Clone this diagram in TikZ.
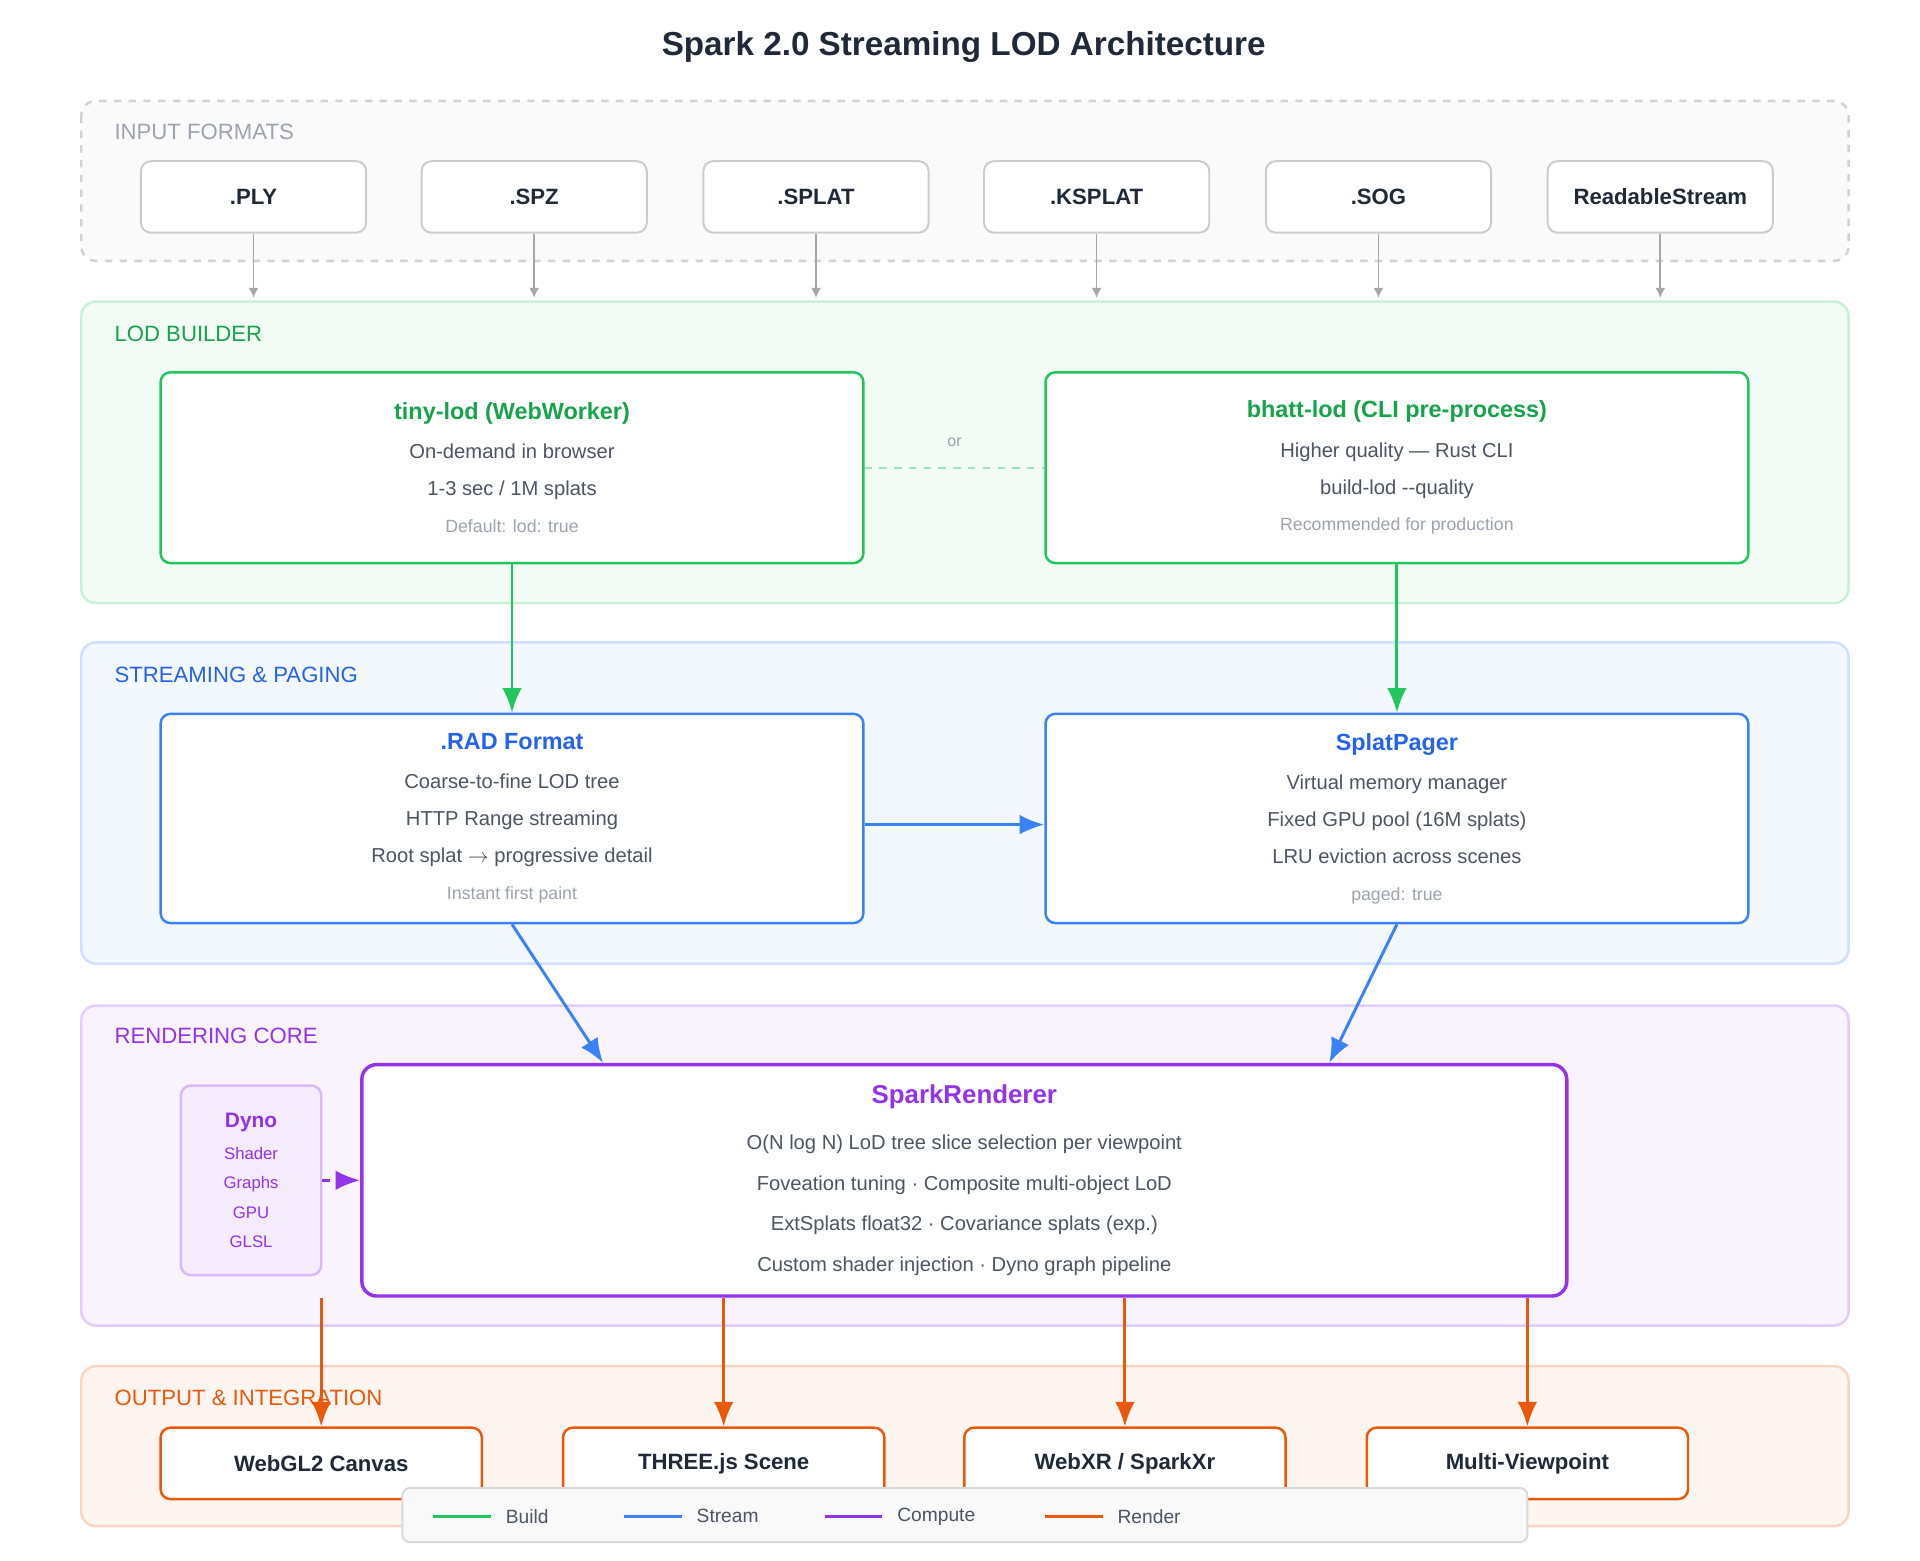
\documentclass[tikz,border=0pt]{standalone}
\usepackage{fontspec}
\setmainfont{Liberation Sans}
\usetikzlibrary{arrows.meta, positioning, calc}
\definecolor{sparkgreen}{HTML}{22C55E}
\definecolor{sparkgreentxt}{HTML}{16A34A}
\definecolor{sparkblue}{HTML}{3B82F6}
\definecolor{sparkbluetxt}{HTML}{2563EB}
\definecolor{sparkpurple}{HTML}{9333EA}
\definecolor{sparkorange}{HTML}{EA580C}
\definecolor{sparktext}{HTML}{4B5563}
\definecolor{sparkmuted}{HTML}{9CA3AF}
\definecolor{sparkdark}{HTML}{1F2937}

\begin{document}
\begin{tikzpicture}[
  x=0.5pt, y=-0.5pt,
  panel/.style={draw=#1!25, fill=#1!6, line width=1pt, rounded corners=6pt},
  paneltitle/.style={anchor=west, text=#1, font=\fontsize{9}{11}\selectfont},
  fmt/.style={draw=gray!40, fill=white, line width=0.8pt, rounded corners=4pt,
    minimum width=91.5pt, minimum height=29pt, font=\fontsize{9}{11}\selectfont\bfseries, text=sparkdark},
  comp/.style={draw=#1, fill=white, line width=1pt, rounded corners=4pt,
    minimum width=285.5pt, align=center, text=sparktext, font=\fontsize{8.2}{15}\selectfont},
  outbox/.style={draw=sparkorange, fill=white, line width=1pt, rounded corners=4pt,
    minimum width=130.5pt, minimum height=29pt, font=\fontsize{9}{11}\selectfont\bfseries, text=sparkdark},
  feed/.style={-{Latex[length=4pt,width=4pt]}, gray!70, line width=0.7pt},
  flow/.style={-{Latex[length=10pt,width=8pt]}, #1, line width=1.2pt},
  small/.style={font=\fontsize{7.2}{11}\selectfont, text=sparkmuted}
]
\useasboundingbox (0,0) rectangle (1560,1268);

% Title
\node[font=\fontsize{13.5}{16}\selectfont\bfseries, text=sparkdark] (title) at (783,38) {Spark 2.0 Streaming LOD Architecture};

% Panels
\draw[draw=gray!35, fill=gray!4, line width=1pt, dashed, rounded corners=6pt] (66,82) rectangle (1502,212);
\node[paneltitle=sparkmuted] at (86,107) {INPUT FORMATS};
\draw[panel=sparkgreen] (66,245) rectangle (1502,490);
\node[paneltitle=sparkgreentxt] at (86,271) {LOD BUILDER};
\draw[panel=sparkblue] (66,522) rectangle (1502,783);
\node[paneltitle=sparkbluetxt] at (86,548) {STREAMING \& PAGING};
\draw[panel=sparkpurple] (66,817) rectangle (1502,1077);
\node[paneltitle=sparkpurple] at (86,842) {RENDERING CORE};
\draw[panel=sparkorange] (66,1110) rectangle (1502,1240);
\node[paneltitle=sparkorange] at (86,1136) {OUTPUT \& INTEGRATION};

% Input formats
\foreach \name/\x/\txt in {ply/206/.PLY, spz/434/.SPZ, splat/663/.SPLAT, ksplat/891/.KSPLAT, sog/1120/.SOG, rstream/1349/ReadableStream} {
  \node[fmt] (\name) at (\x,160) {\txt};
  \coordinate (\name-in) at (\x,242);
  \draw[feed] (\name) -- (\name-in);
}

% LOD builder
\node[comp=sparkgreen, minimum height=77.5pt] (tiny) at (416,380) {%
  {\fontsize{9.5}{12}\selectfont\bfseries\color{sparkgreentxt} tiny-lod (WebWorker)}\\[1pt]
  On-demand in browser\\
  1-3 sec / 1M splats\\
  {\fontsize{7.2}{12}\selectfont\color{sparkmuted} Default: lod: true}};
\node[comp=sparkgreen, minimum height=77.5pt] (bhatt) at (1135,380) {%
  {\fontsize{9.5}{12}\selectfont\bfseries\color{sparkgreentxt} bhatt-lod (CLI pre-process)}\\[1pt]
  Higher quality — Rust CLI\\
  build-lod -{}-quality\\
  {\fontsize{7.2}{12}\selectfont\color{sparkmuted} Recommended for production}};
\draw[sparkgreen!45, dashed, line width=0.7pt] (tiny) -- node[above=5pt, small, font=\fontsize{6.5}{8}\selectfont] {or} (bhatt);

% Streaming & paging
\node[comp=sparkblue, minimum height=85pt] (rad) at (416,665) {%
  {\fontsize{9.5}{12}\selectfont\bfseries\color{sparkbluetxt} .RAD Format}\\[1pt]
  Coarse-to-fine LOD tree\\
  HTTP Range streaming\\
  Root splat $\rightarrow$ progressive detail\\
  {\fontsize{7.2}{12}\selectfont\color{sparkmuted} Instant first paint}};
\node[comp=sparkblue, minimum height=85pt] (pager) at (1135,665) {%
  {\fontsize{9.5}{12}\selectfont\bfseries\color{sparkbluetxt} SplatPager}\\[1pt]
  Virtual memory manager\\
  Fixed GPU pool (16M splats)\\
  LRU eviction across scenes\\
  {\fontsize{7.2}{12}\selectfont\color{sparkmuted} paged: true}};

% Rendering core
\node[draw=sparkpurple!35, fill=sparkpurple!10, line width=1pt, rounded corners=4pt,
  minimum width=57pt, minimum height=77pt, align=center, text=sparkpurple,
  font=\fontsize{6.8}{12}\selectfont] (dyno) at (204,959) {%
  {\fontsize{8.5}{12}\selectfont\bfseries Dyno}\\[1pt] Shader\\ Graphs\\ GPU\\ GLSL};
\node[draw=sparkpurple, fill=white, line width=1.4pt, rounded corners=6pt,
  minimum width=489.5pt, minimum height=94pt, align=center, text=sparktext,
  font=\fontsize{8.2}{16.5}\selectfont] (renderer) at (783.5,959) {%
  {\fontsize{10.5}{13}\selectfont\bfseries\color{sparkpurple} SparkRenderer}\\[2pt]
  O(N log N) LoD tree slice selection per viewpoint\\
  Foveation tuning · Composite multi-object LoD\\
  ExtSplats float32 · Covariance splats (exp.)\\
  Custom shader injection · Dyno graph pipeline};

% Output
\foreach \name/\x/\txt in {webgl/261/{WebGL2 Canvas}, three/588/{THREE.js Scene}, webxr/914/{WebXR / SparkXr}, multi/1241/{Multi-Viewpoint}} {
  \node[outbox] (\name) at (\x,1189) {\txt};
}

% Connections
\draw[flow=sparkgreen] (tiny.south) -- (rad.north);
\draw[flow=sparkgreen] (bhatt.south) -- (pager.north);
\draw[flow=sparkblue] (rad.east |- 0,670) -- (pager.west |- 0,670);
\draw[flow=sparkblue] (rad.south) -- (renderer.north -| 490,0);
\draw[flow=sparkblue] (pager.south) -- (renderer.north -| 1080,0);
\draw[flow=sparkpurple, dashed] (dyno.east) -- (renderer.west);
\coordinate (webgl-src) at (renderer.south -| webgl);
\draw[flow=sparkorange] (webgl-src) -- (webgl.north);
\draw[flow=sparkorange] (renderer.south -| three) -- (three.north);
\draw[flow=sparkorange] (renderer.south -| webxr) -- (webxr.north);
\draw[flow=sparkorange] (renderer.south -| multi) -- (multi.north);

% Legend
\node[draw=gray!30, fill=gray!5, line width=0.8pt, rounded corners=3pt,
  minimum width=457pt, minimum height=22pt] (legend) at (784,1231) {};
\foreach \x/\c/\txt in {352/sparkgreen/Build, 507/sparkblue/Stream, 670/sparkpurple/Compute, 849/sparkorange/Render} {
  \draw[\c, line width=1.2pt] (\x,1232) -- ++(47,0);
  \node[anchor=west, text=sparktext, font=\fontsize{7.8}{10}\selectfont] at (\x+52,1232) {\txt};
}

\end{tikzpicture}
\end{document}
